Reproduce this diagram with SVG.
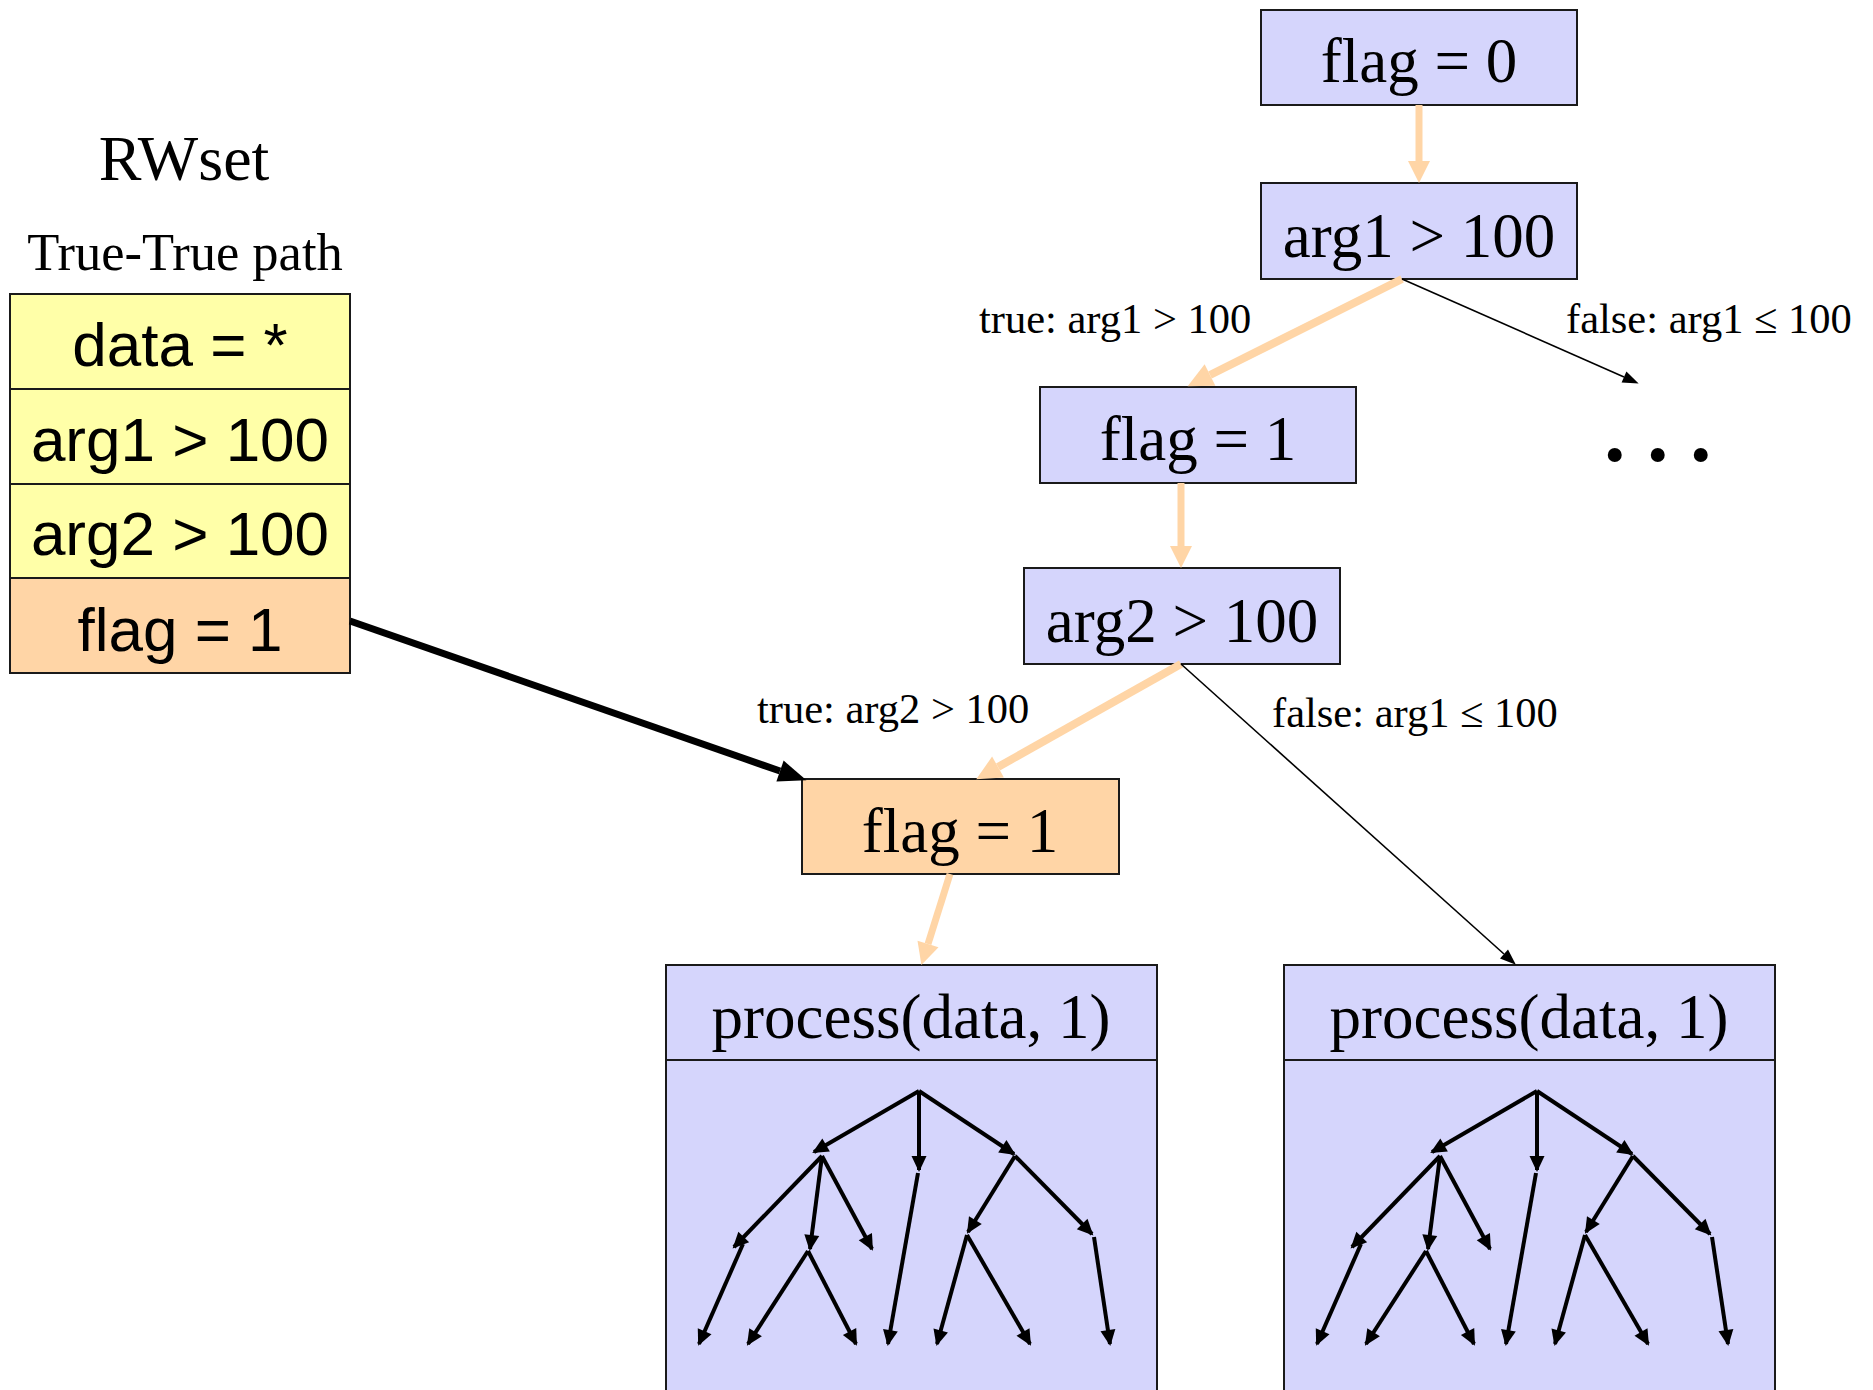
<svg xmlns="http://www.w3.org/2000/svg" xmlns:xlink="http://www.w3.org/1999/xlink" width="1873" height="1390" viewBox="0 0 1873 1390">
<style>
.blue{fill:#D5D5FC;stroke:#1a1a1a;stroke-width:2}
.peachbox{fill:#FFD5A6;stroke:#1a1a1a;stroke-width:2}
.yellow{fill:#FFFFA8;stroke:#1a1a1a;stroke-width:2}
.serif{font-family:"Liberation Serif","Times New Roman",serif;fill:#000}
.sans{font-family:"Liberation Sans",Arial,sans-serif;fill:#000}
.big{font-size:63px;text-anchor:middle}
.sbig{font-size:62px;text-anchor:middle}
.lbl{font-size:42.5px}
.peach{stroke:#FFD5A6;fill:none}
.thin{stroke:#000;stroke-width:1.6;fill:none}
.mini{stroke:#000;stroke-width:4;fill:none;marker-end:url(#mh)}
</style>
<defs>
<marker id="ph" markerUnits="userSpaceOnUse" markerWidth="30" markerHeight="30" refX="0" refY="11" orient="auto" overflow="visible"><path d="M0,0 L22,11 L0,22 z" fill="#FFD5A6"/></marker>
<marker id="ph2" markerUnits="userSpaceOnUse" markerWidth="30" markerHeight="30" refX="0" refY="12" orient="auto" overflow="visible"><path d="M0,0 L25,12 L0,24 z" fill="#FFD5A6"/></marker>
<marker id="bh" markerUnits="userSpaceOnUse" markerWidth="20" markerHeight="20" refX="0" refY="6" orient="auto" overflow="visible"><path d="M0,0 L16,6 L0,12 z" fill="#000"/></marker>
<marker id="bk" markerUnits="userSpaceOnUse" markerWidth="30" markerHeight="30" refX="0" refY="11" orient="auto" overflow="visible"><path d="M0,0 L28,11 L0,22 z" fill="#000"/></marker>
<marker id="mh" markerUnits="userSpaceOnUse" markerWidth="20" markerHeight="20" refX="14" refY="7.5" orient="auto" overflow="visible"><path d="M0,0 L16,7.5 L0,15 z" fill="#000"/></marker>
<g id="minitree">
<path class="mini" d="M919,1091 L814,1152"/>
<path class="mini" d="M919,1091 L919,1170"/>
<path class="mini" d="M919,1091 L1014,1154"/>
<path class="mini" d="M822,1156 L734,1247"/>
<path class="mini" d="M822,1156 L810,1249"/>
<path class="mini" d="M822,1156 L872,1249"/>
<path class="mini" d="M918,1173 L888,1344"/>
<path class="mini" d="M1015,1156 L968,1232"/>
<path class="mini" d="M1015,1156 L1092,1234"/>
<path class="mini" d="M743,1244 L699,1344"/>
<path class="mini" d="M808,1251 L748,1344"/>
<path class="mini" d="M808,1251 L856,1344"/>
<path class="mini" d="M967,1235 L937,1344"/>
<path class="mini" d="M967,1235 L1030,1344"/>
<path class="mini" d="M1094,1237 L1110,1344"/>
</g>
</defs>
<rect width="1873" height="1390" fill="#fff"/>

<g id="rwset">
<text class="serif" x="184" y="180" font-size="64" text-anchor="middle">RWset</text>
<text class="serif" x="185" y="270" font-size="52.5" text-anchor="middle">True-True path</text>
<g id="row-data"><rect class="yellow" x="10" y="294" width="340" height="95"/><text class="sans sbig" x="180" y="366">data = *</text></g>
<g id="row-arg1"><rect class="yellow" x="10" y="389" width="340" height="95"/><text class="sans sbig" x="180" y="461">arg1 &gt; 100</text></g>
<g id="row-arg2"><rect class="yellow" x="10" y="484" width="340" height="94"/><text class="sans sbig" x="180" y="555">arg2 &gt; 100</text></g>
<g id="row-flag"><rect class="peachbox" x="10" y="578" width="340" height="95"/><text class="sans sbig" x="180" y="651">flag = 1</text></g>
</g>

<g id="n-flag0"><rect class="blue" x="1261" y="10" width="316" height="95"/><text class="serif big" x="1419" y="82">flag = 0</text></g>
<g id="n-arg1"><rect class="blue" x="1261" y="183" width="316" height="96"/><text class="serif big" x="1419" y="257">arg1 &gt; 100</text></g>
<g id="n-flag1a"><rect class="blue" x="1040" y="387" width="316" height="96"/><text class="serif big" x="1198" y="460">flag = 1</text></g>
<g id="n-dots"><text class="serif" x="1604" y="461" font-size="86" font-weight="bold">. . .</text></g>
<g id="n-arg2"><rect class="blue" x="1024" y="568" width="316" height="96"/><text class="serif big" x="1182" y="642">arg2 &gt; 100</text></g>
<g id="n-flag1b"><rect class="peachbox" x="802" y="779" width="317" height="95"/><text class="serif big" x="960" y="852">flag = 1</text></g>
<g id="n-proc1"><rect class="blue" x="666" y="965" width="491" height="460"/><line x1="666" y1="1060" x2="1157" y2="1060" stroke="#1a1a1a" stroke-width="2"/><text class="serif big" x="911" y="1038">process(data, 1)</text><use xlink:href="#minitree" href="#minitree"/></g>
<g id="n-proc2"><rect class="blue" x="1284" y="965" width="491" height="460"/><line x1="1284" y1="1060" x2="1775" y2="1060" stroke="#1a1a1a" stroke-width="2"/><text class="serif big" x="1529" y="1038">process(data, 1)</text><use xlink:href="#minitree" href="#minitree" x="618"/></g>

<g id="connectors">
<path class="peach" stroke-width="7" d="M1419,105 L1419,161" marker-end="url(#ph)"/>
<path class="peach" stroke-width="8" d="M1402,279 L1210,375" marker-end="url(#ph2)"/>
<path class="thin" d="M1402,279 L1624,377" marker-end="url(#bh)"/>
<text class="serif lbl" x="979" y="333">true: arg1 &gt; 100</text>
<text class="serif lbl" x="1566" y="333">false: arg1 ≤ 100</text>
<path class="peach" stroke-width="7" d="M1181,483 L1181,546" marker-end="url(#ph)"/>
<path class="peach" stroke-width="8" d="M1181,664 L998,767" marker-end="url(#ph2)"/>
<path class="thin" d="M1181,664 L1504,954" marker-end="url(#bh)"/>
<text class="serif lbl" x="757" y="723">true: arg2 &gt; 100</text>
<text class="serif lbl" x="1272" y="727">false: arg1 ≤ 100</text>
<path class="peach" stroke-width="7" d="M950,874 L928,944" marker-end="url(#ph)"/>
<path stroke="#000" stroke-width="7" fill="none" d="M350,621 L780,771" marker-end="url(#bk)"/>
</g>
</svg>
